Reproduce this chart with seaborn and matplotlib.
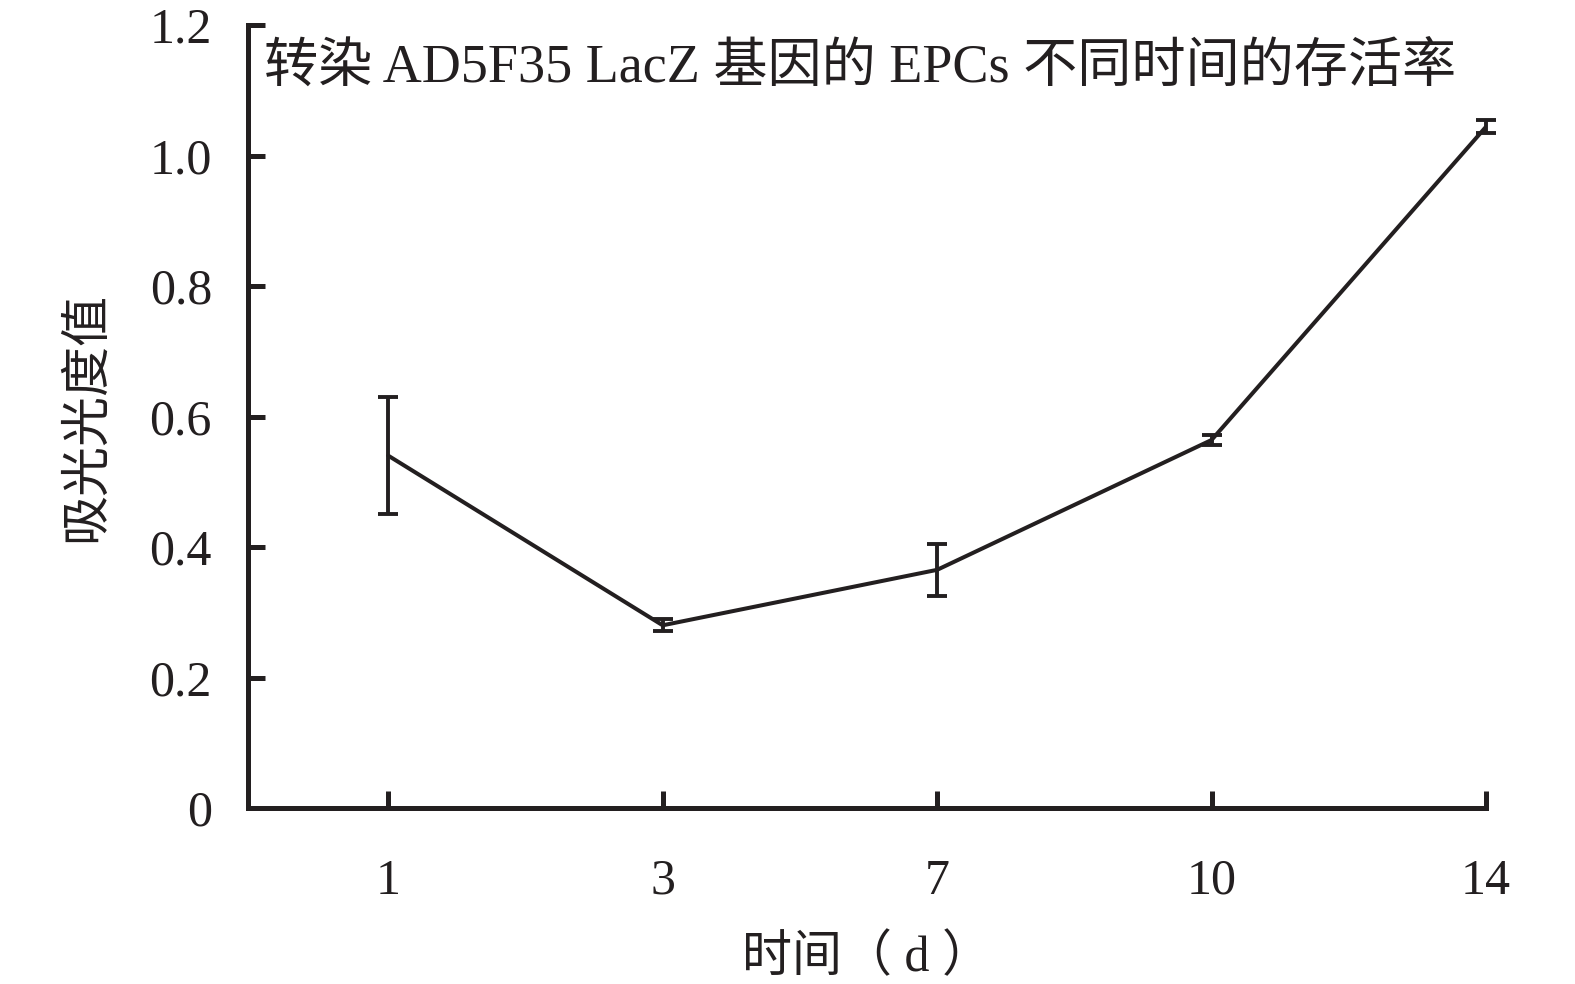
import matplotlib
matplotlib.use("Agg")
import matplotlib.pyplot as plt
import seaborn as sns
import pandas as pd

days = ["1", "3", "7", "10", "14"]
absorbance = [0.540, 0.280, 0.365, 0.564, 1.044]
errors = [0.090, 0.009, 0.040, 0.008, 0.010]
yticks = [0, 0.2, 0.4, 0.6, 0.8, 1.0, 1.2]
ytick_labels = ["0", "0.2", "0.4", "0.6", "0.8", "1.0", "1.2"]
title = "转染 AD5F35 LacZ 基因的 EPCs 不同时间的存活率"
xlabel = "时间（ d ）"
ylabel = "吸光光度值"

sns.set_theme(style="white")
plt.rcParams['font.family'] = ['Liberation Serif', 'Noto Sans CJK SC']
ink = "#231f20"

df = pd.DataFrame({"day": days, "value": absorbance, "err": errors})

fig = plt.figure(figsize=(15.75, 9.84), dpi=100)
ax = fig.add_axes([248/1575, 1 - 808/984, (1486-248)/1575, (808-25)/984])

sns.lineplot(data=df, x="day", y="value", ax=ax, color=ink, linewidth=2.9,
             sort=False, errorbar=None)
eb = ax.errorbar(df["day"], df["value"], yerr=df["err"], fmt="none", ecolor=ink,
                 elinewidth=2.8, capsize=7, capthick=2.8)
for art in eb.lines[1] + eb.lines[2]:
    art.set_clip_on(False)
eb.lines[2][0].set_clip_on(False)

ax.set_xlim(-0.511, 4.0)
ax.set_ylim(0, 1.2)
ax.set_yticks(yticks)
ax.set_yticklabels(ytick_labels)

for s in ["top", "right"]:
    ax.spines[s].set_visible(False)
for s in ["left", "bottom"]:
    ax.spines[s].set_color(ink)
    ax.spines[s].set_linewidth(3.6)

ax.tick_params(axis="both", direction="in", length=12, width=3.6, color=ink,
               labelsize=36, labelcolor=ink, bottom=True, left=True)
ax.tick_params(axis="y", pad=26)
ax.tick_params(axis="x", pad=36)

ax.set_xlabel(xlabel, fontsize=36, color=ink, labelpad=22)
ax.set_ylabel(ylabel, fontsize=36, color=ink, labelpad=28)

ax.text(0.013, 0.945, title, transform=ax.transAxes, fontsize=39, color=ink,
        ha="left", va="center")

fig.savefig("out.png", dpi=100, facecolor="white")
